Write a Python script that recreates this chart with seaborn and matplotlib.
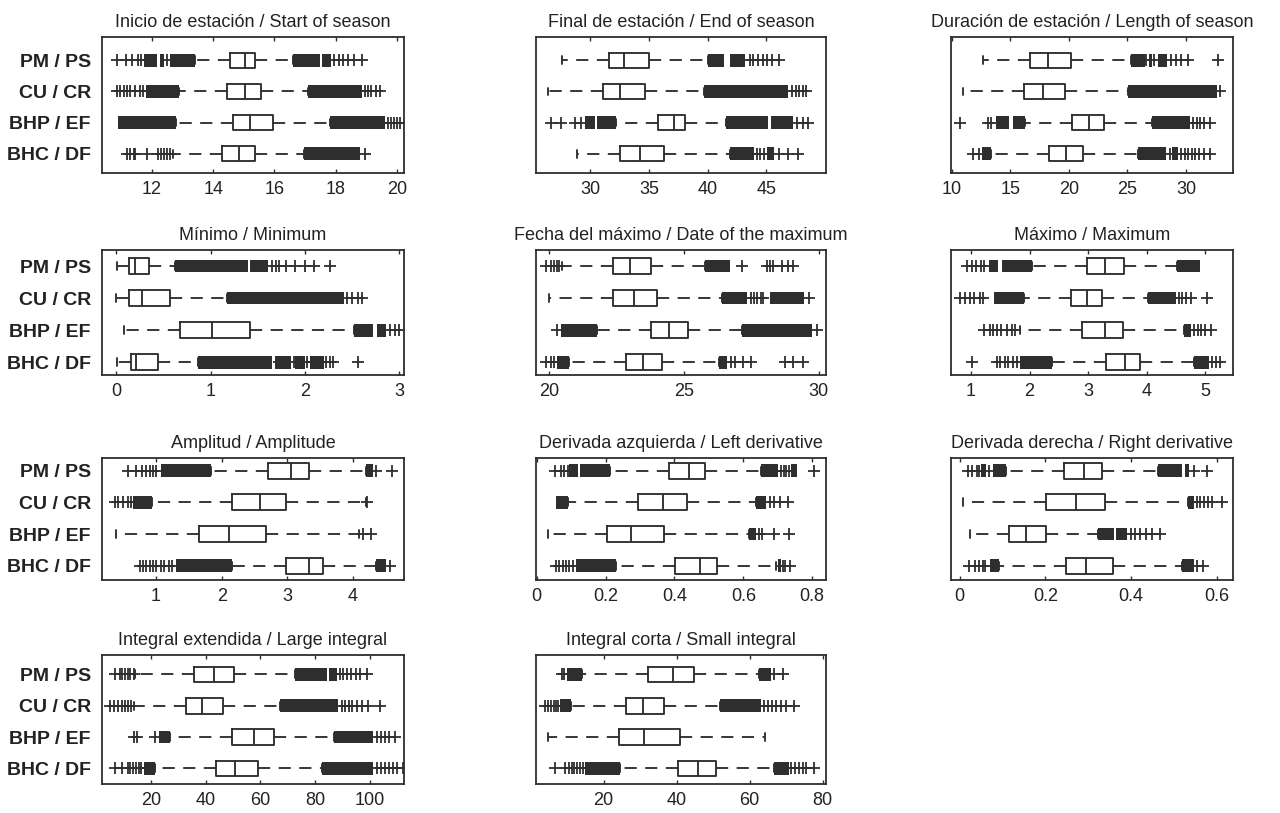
import numpy as np
import pandas as pd
import matplotlib
matplotlib.use("Agg")
import matplotlib.pyplot as plt
import seaborn as sns
from matplotlib import font_manager
from matplotlib.ticker import FuncFormatter

sns.set_style("white")

# ---------------------------------------------------------------
# Data
# box rows: [low whisker, q1, median, q3, high whisker]
# bands: dense runs of outliers, fliers: single outliers
# ---------------------------------------------------------------
groups = ["PM / PS", "CU / CR", "BHP / EF", "BHC / DF"]

titles = [
    "Inicio de estación / Start of season",
    "Final de estación / End of season",
    "Duración de estación / Length of season",
    "Mínimo / Minimum",
    "Fecha del máximo / Date of the maximum",
    "Máximo / Maximum",
    "Amplitud / Amplitude",
    "Derivada azquierda / Left derivative",
    "Derivada derecha / Right derivative",
    "Integral extendida / Large integral",
    "Integral corta / Small integral",
]

inicio_box = [[13.4, 14.55, 15.05, 15.35, 16.6],
              [12.9, 14.45, 15.05, 15.55, 17.1],
              [12.8, 14.65, 15.2, 15.95, 17.8],
              [12.7, 14.3, 14.85, 15.35, 16.95]]
inicio_bands = [[[11.75, 12.15], [12.25, 12.4], [12.6, 13.4], [16.6, 17.5], [17.55, 17.85]],
                [[11.8, 12.9], [17.1, 18.85]],
                [[10.9, 12.8], [17.8, 19.6]],
                [[16.95, 18.8]]]
inicio_fliers = [[10.85, 11.15, 11.35, 11.55, 11.65, 12.5, 17.95, 18.1, 18.25, 18.4, 18.6, 18.85],
                 [10.85, 10.95, 11.1, 11.2, 11.3, 11.45, 11.6, 11.7, 18.95, 19.05, 19.15, 19.3, 19.45],
                 [19.7, 19.8, 19.9, 20.0, 20.1],
                 [11.2, 11.3, 11.4, 11.45, 11.85, 12.2, 12.3, 12.4, 12.5, 12.6, 18.95]]

final_box = [[27.55, 31.6, 32.85, 35.0, 40.0],
             [26.4, 31.1, 32.55, 34.7, 39.7],
             [32.2, 35.75, 37.1, 38.1, 41.6],
             [28.9, 32.55, 34.2, 36.3, 41.9]]
final_bands = [[[40.0, 41.4], [41.9, 43.2]],
               [[39.7, 46.85]],
               [[29.5, 30.4], [30.6, 32.2], [41.6, 45.15], [45.4, 47.3]],
               [[41.9, 44.0], [45.1, 45.7]]]
final_fliers = [[43.6, 43.9, 44.3, 44.7, 45.1, 45.5, 46.1],
                [47.2, 47.5, 47.8, 48.1, 48.4],
                [26.6, 27.5, 28.7, 29.2, 47.6, 48.1, 48.6],
                [44.2, 44.5, 44.8, 46.1, 46.85, 47.7]]

duracion_box = [[12.65, 16.7, 18.25, 20.2, 25.3],
                [11.0, 16.2, 17.8, 19.65, 25.05],
                [16.25, 20.3, 21.7, 23.0, 27.05],
                [13.4, 18.3, 19.8, 21.2, 25.9]]
duracion_bands = [[[25.3, 26.5], [26.8, 27.1], [27.6, 28.4]],
                  [[25.05, 32.6]],
                  [[13.8, 14.9], [15.2, 16.25], [27.05, 30.3]],
                  [[12.6, 13.4], [25.9, 28.3], [28.8, 29.3]]]
duracion_fliers = [[26.6, 27.3, 28.7, 29.1, 29.6, 30.2, 32.7],
                   [32.9],
                   [10.7, 13.1, 13.4, 30.6, 30.9, 31.2, 31.5, 32.0],
                   [11.8, 12.3, 28.6, 29.6, 29.9, 30.2, 30.5, 30.8, 31.1, 31.5, 32.0]]

minimo_box = [[0.01, 0.14, 0.2, 0.35, 0.62],
              [0.0, 0.14, 0.27, 0.57, 1.17],
              [0.08, 0.68, 1.02, 1.42, 2.52],
              [0.01, 0.16, 0.21, 0.44, 0.87]]
minimo_bands = [[[0.62, 1.4], [1.42, 1.61]],
                [[1.17, 2.41]],
                [[2.52, 2.72], [2.76, 2.86]],
                [[0.87, 1.65], [1.68, 1.85], [1.9, 2.0], [2.05, 2.2]]]
minimo_fliers = [[1.65, 1.69, 1.73, 1.8, 1.9, 2.0, 2.1, 2.27],
                 [2.45, 2.5, 2.56, 2.61],
                 [2.9, 2.95, 3.0],
                 [1.73, 1.78, 1.88, 2.02, 2.1, 2.22, 2.27, 2.3, 2.56]]

fecha_box = [[20.5, 22.4, 23.0, 23.8, 25.8],
             [20.0, 22.4, 23.17, 24.0, 26.4],
             [21.8, 23.8, 24.45, 25.15, 27.15],
             [20.75, 22.85, 23.5, 24.2, 26.3]]
fecha_bands = [[[25.8, 26.7]],
               [[26.4, 27.35], [28.2, 29.45]],
               [[20.45, 21.8], [27.15, 29.75]],
               [[20.3, 20.75], [26.3, 26.6]]]
fecha_fliers = [[19.9, 20.1, 20.2, 20.3, 20.38, 27.15, 28.1, 28.2, 28.3, 28.65, 28.85, 29.05],
                [27.5, 27.6, 27.7, 27.85, 27.95, 29.65],
                [20.3, 29.95],
                [19.9, 20.1, 20.2, 26.75, 26.9, 27.2, 27.5, 28.75, 29.05, 29.4]]

maximo_box = [[2.04, 2.98, 3.29, 3.61, 4.52],
              [1.9, 2.7, 2.98, 3.24, 4.02],
              [1.84, 2.9, 3.28, 3.6, 4.63],
              [2.38, 3.31, 3.62, 3.89, 4.8]]
maximo_bands = [[[1.3, 1.47], [1.53, 2.04], [4.52, 4.9]],
                [[1.39, 1.9], [4.02, 4.49]],
                [[4.63, 4.75]],
                [[1.84, 2.38], [4.8, 5.06]]]
maximo_fliers = [[0.93, 1.02, 1.08, 1.17, 1.22],
                 [0.82, 0.9, 0.98, 1.05, 1.15, 1.2, 4.55, 4.6, 4.67, 4.75, 5.03],
                 [1.22, 1.33, 1.38, 1.44, 1.52, 1.62, 1.7, 1.76, 4.8, 4.87, 4.93, 5.0, 5.1],
                 [1.02, 1.44, 1.5, 1.58, 1.64, 1.72, 1.78, 5.12, 5.18, 5.25]]

amplitud_box = [[1.83, 2.71, 3.05, 3.33, 4.2],
                [0.93, 2.15, 2.59, 2.98, 4.2],
                [0.39, 1.66, 2.11, 2.68, 4.1],
                [2.15, 2.98, 3.33, 3.54, 4.35]]
amplitud_bands = [[[1.07, 1.83], [4.2, 4.3]],
                  [[0.65, 0.93]],
                  [],
                  [[1.3, 2.15], [4.35, 4.5]]]
amplitud_fliers = [[0.57, 0.7, 0.78, 0.85, 0.9, 0.95, 1.0, 4.35, 4.6],
                   [0.38, 0.42, 0.5, 0.57, 0.62, 4.22],
                   [4.15, 4.27],
                   [0.75, 0.8, 0.85, 0.9, 0.95, 1.0, 1.07, 1.12, 1.2, 1.25, 4.57]]

izq_box = [[0.214, 0.383, 0.443, 0.489, 0.652],
           [0.09, 0.295, 0.367, 0.435, 0.638],
           [0.033, 0.205, 0.274, 0.371, 0.617],
           [0.229, 0.402, 0.473, 0.524, 0.695]]
izq_bands = [[[0.095, 0.12], [0.126, 0.214], [0.652, 0.7], [0.738, 0.757]],
             [[0.057, 0.09], [0.638, 0.667]],
             [[0.617, 0.638]],
             [[0.114, 0.229], [0.7, 0.71]]]
izq_fliers = [[0.052, 0.07, 0.08, 0.09, 0.71, 0.718, 0.725, 0.733, 0.805],
              [0.676, 0.69, 0.705, 0.729],
              [0.645, 0.655, 0.69, 0.733],
              [0.055, 0.065, 0.075, 0.085, 0.095, 0.105, 0.715, 0.72, 0.735]]

der_box = [[0.109, 0.244, 0.291, 0.333, 0.464],
           [0.009, 0.201, 0.271, 0.339, 0.534],
           [0.025, 0.115, 0.156, 0.201, 0.322],
           [0.092, 0.249, 0.295, 0.358, 0.518]]
der_bands = [[[0.05, 0.062], [0.078, 0.109], [0.464, 0.52], [0.525, 0.536]],
             [[0.534, 0.546]],
             [[0.322, 0.36], [0.365, 0.39]],
             [[0.07, 0.092], [0.518, 0.546]]]
der_fliers = [[0.02, 0.03, 0.04, 0.045, 0.068, 0.546, 0.577],
              [0.553, 0.562, 0.57, 0.58, 0.59, 0.612],
              [0.4, 0.41, 0.42, 0.435, 0.45, 0.468],
              [0.023, 0.035, 0.045, 0.055, 0.06, 0.553, 0.569]]

larga_box = [[14.3, 35.6, 43.2, 50.2, 72.7],
             [13.7, 32.9, 38.6, 46.3, 67.0],
             [27.1, 49.8, 57.5, 64.8, 87.0],
             [21.6, 43.8, 50.8, 59.3, 82.4]]
larga_bands = [[[72.7, 84.2], [85.0, 88.0]],
               [[67.0, 88.5]],
               [[23.0, 27.1], [87.0, 101.3]],
               [[17.3, 21.6], [82.4, 101.3]]]
larga_fliers = [[7.0, 8.5, 9.5, 10.5, 11.5, 12.5, 13.7, 89.0, 90.2, 91.5, 93.0, 95.0, 96.5, 98.8],
                [5.2, 6.5, 8.0, 9.5, 10.5, 11.5, 12.7, 89.8, 91.0, 92.5, 93.5, 95.5, 97.0, 99.5, 103.7],
                [13.7, 14.9, 21.6, 102.5, 104.0, 105.5, 107.0, 109.2],
                [7.0, 9.5, 11.5, 12.5, 13.5, 14.5, 15.5, 16.5, 102.5, 104.0, 105.5, 107.0, 108.5, 110.0, 112.0]]

corta_box = [[14.0, 32.2, 39.0, 44.7, 62.6],
             [11.0, 26.1, 30.8, 36.5, 51.9],
             [4.9, 24.1, 31.2, 40.8, 64.1],
             [24.4, 40.3, 45.8, 50.7, 66.7]]
corta_bands = [[[9.9, 14.0], [62.6, 65.8]],
               [[8.1, 11.0], [51.9, 63.0]],
               [],
               [[15.0, 24.4], [66.7, 70.8]]]
corta_fliers = [[8.6, 9.3, 66.7, 69.0],
                [4.0, 4.8, 5.5, 6.3, 7.0, 7.6, 64.0, 65.0, 66.0, 67.3, 68.5, 70.0, 72.2],
                [],
                [6.7, 9.5, 10.5, 11.3, 12.0, 12.8, 13.5, 14.3, 71.3, 72.5, 73.5, 74.5, 75.5, 77.5]]

x_limits = [(10.37, 20.23), (25.36, 50.1), (9.95, 34.0),
            (-0.15, 3.05), (19.53, 30.27), (0.66, 5.47),
            (0.175, 4.78), (-0.002, 0.84), (-0.02, 0.638),
            (2.1, 112.5), (1.5, 80.9)]
x_ticks = [[12, 14, 16, 18, 20], [30, 35, 40, 45], [10, 15, 20, 25, 30],
           [0, 1, 2, 3], [20, 25, 30], [1, 2, 3, 4, 5],
           [1, 2, 3, 4], [0, 0.2, 0.4, 0.6, 0.8], [0, 0.2, 0.4, 0.6],
           [20, 40, 60, 80, 100], [20, 40, 60, 80]]

boxes = [inicio_box, final_box, duracion_box, minimo_box, fecha_box, maximo_box,
         amplitud_box, izq_box, der_box, larga_box, corta_box]
bands = [inicio_bands, final_bands, duracion_bands, minimo_bands, fecha_bands, maximo_bands,
         amplitud_bands, izq_bands, der_bands, larga_bands, corta_bands]
fliers = [inicio_fliers, final_fliers, duracion_fliers, minimo_fliers, fecha_fliers, maximo_fliers,
          amplitud_fliers, izq_fliers, der_fliers, larga_fliers, corta_fliers]

# ---------------------------------------------------------------
# Fonts
# ---------------------------------------------------------------
def have_font(name):
    try:
        font_manager.findfont(name, fallback_to_default=False)
        return True
    except ValueError:
        return False

narrow = have_font("Liberation Sans Narrow")
title_font = "Liberation Sans Narrow" if narrow else "Liberation Sans"
title_size = 15 if narrow else 13
plt.rcParams["font.family"] = ["Liberation Sans", "DejaVu Sans"]

ink = "#2e2e2e"

# panel frame in pixels (figure is 1280 x 813)
col_left = [102, 536, 951]
col_right = [404, 826, 1233]
row_top = [37, 250, 458, 655]
row_bottom = [173, 375, 580, 784]
row_ylim = [(3.62, -0.75), (3.4, -0.5), (3.45, -0.4), (3.5, -0.62)]

fig = plt.figure(figsize=(12.8, 8.13), dpi=100)

for i in range(len(titles)):
    r, c = divmod(i, 3)
    W, H = 1280, 813
    ax = fig.add_axes([col_left[c] / W, 1 - row_bottom[r] / H,
                       (col_right[c] - col_left[c]) / W,
                       (row_bottom[r] - row_top[r]) / H])

    # five-number data: percentiles of 5 sorted values give exactly q1/median/q3
    recs = []
    for g, five in zip(groups, boxes[i]):
        for v in five:
            recs.append({"grupo": g, "valor": v})
    df = pd.DataFrame(recs)

    sns.boxplot(data=df, x="valor", y="grupo", order=groups, whis=np.inf,
                width=0.5, fill=False, color=ink, linewidth=1.35,
                whiskerprops={"linestyle": (0, (6.5, 4.5))}, ax=ax)

    for k, g in enumerate(groups):
        for lo, hi in bands[i][k]:
            ax.barh(k, hi - lo, left=lo, height=0.4, color=ink, linewidth=0)
        if fliers[i][k]:
            ax.scatter(fliers[i][k], [k] * len(fliers[i][k]), marker="+", s=70,
                       color=ink, linewidths=1.3, zorder=3)

    ax.set_xlim(*x_limits[i])
    ax.set_ylim(*row_ylim[r])
    ax.set_xticks(x_ticks[i])
    ax.xaxis.set_major_formatter(FuncFormatter(lambda v, p: f"{v:g}"))
    ax.tick_params(axis="x", direction="in", top=True, bottom=True, length=3,
                   width=1, color=ink, labelsize=13, pad=6, labelcolor="#222222")
    ax.set_yticks(range(len(groups)))
    if c == 0:
        ax.set_yticklabels(groups, fontsize=14, fontweight="bold", color="#222222")
    else:
        ax.set_yticklabels([])
    ax.tick_params(axis="y", length=0, pad=8)
    ax.set_xlabel("")
    ax.set_ylabel("")
    for s in ax.spines.values():
        s.set_visible(True)
        s.set_color(ink)
        s.set_linewidth(1.3)
    ax.set_title(titles[i], fontsize=title_size, family=[title_font, "DejaVu Sans"],
                 color="#222222", pad=7)

fig.savefig("out.png", dpi=100)
